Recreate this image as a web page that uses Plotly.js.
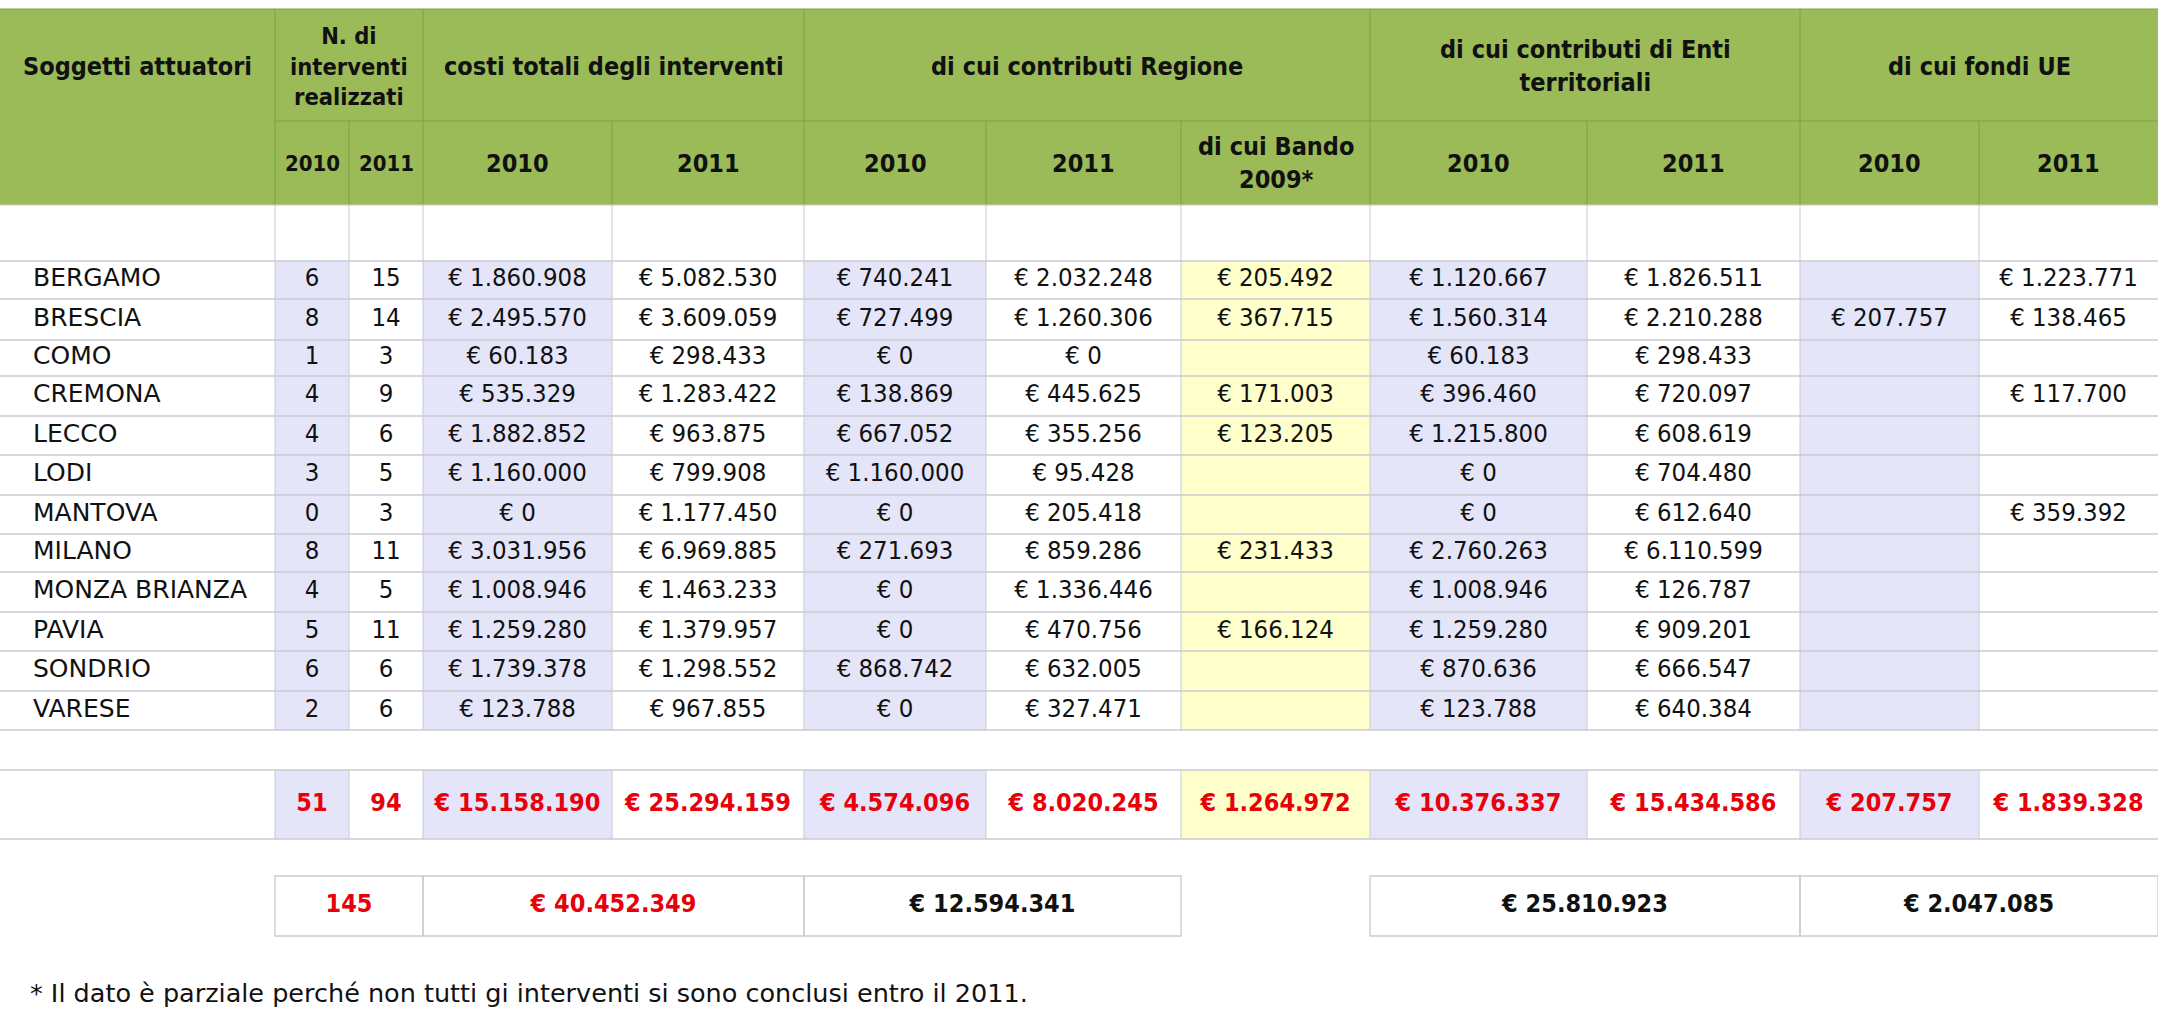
<!DOCTYPE html>
<html>
<head>
<meta charset="utf-8">
<script src="https://cdn.plot.ly/plotly-3.0.1.min.js"></script>
<style>
  html, body { margin: 0; padding: 0; background: #fff; }
  #chart { width: 2158px; height: 1012px; }
</style>
</head>
<body>
<div id="chart"></div>
<script>
const soggetti = ['BERGAMO', 'BRESCIA', 'COMO', 'CREMONA', 'LECCO', 'LODI', 'MANTOVA',
                  'MILANO', 'MONZA BRIANZA', 'PAVIA', 'SONDRIO', 'VARESE'];
const interventi2010 = [6, 8, 1, 4, 4, 3, 0, 8, 4, 5, 6, 2];
const interventi2011 = [15, 14, 3, 9, 6, 5, 3, 11, 5, 11, 6, 6];
const costi2010 = [1860908, 2495570, 60183, 535329, 1882852, 1160000, 0, 3031956, 1008946, 1259280, 1739378, 123788];
const costi2011 = [5082530, 3609059, 298433, 1283422, 963875, 799908, 1177450, 6969885, 1463233, 1379957, 1298552, 967855];
const regione2010 = [740241, 727499, 0, 138869, 667052, 1160000, 0, 271693, 0, 0, 868742, 0];
const regione2011 = [2032248, 1260306, 0, 445625, 355256, 95428, 205418, 859286, 1336446, 470756, 632005, 327471];
const bando2009 = [205492, 367715, null, 171003, 123205, null, null, 231433, null, 166124, null, null];
const enti2010 = [1120667, 1560314, 60183, 396460, 1215800, 0, 0, 2760263, 1008946, 1259280, 870636, 123788];
const enti2011 = [1826511, 2210288, 298433, 720097, 608619, 704480, 612640, 6110599, 126787, 909201, 666547, 640384];
const ue2010 = [null, 207757, null, null, null, null, null, null, null, null, null, null];
const ue2011 = [1223771, 138465, null, 117700, null, null, 359392, null, null, null, null, null];

const totali = [51, 94, 15158190, 25294159, 4574096, 8020245, 1264972, 10376337, 15434586, 207757, 1839328];
const totaliComplessivi = [145, 40452349, 12594341, 25810923, 2047085];

const gruppi = ['Soggetti attuatori', 'N. di<br>interventi<br>realizzati', 'costi totali degli interventi',
                'di cui contributi Regione', 'di cui contributi di Enti<br>territoriali', 'di cui fondi UE'];
const sottotitoli = ['2010', '2011', '2010', '2011', '2010', '2011', 'di cui Bando<br>2009*',
                     '2010', '2011', '2010', '2011'];
const nota = '* Il dato è parziale perché non tutti gi interventi si sono conclusi entro il 2011.';

const colonne = [interventi2010, interventi2011, costi2010, costi2011, regione2010, regione2011,
                 bando2009, enti2010, enti2011, ue2010, ue2011];

// ---- griglia (in pixel della pagina) ----
const colEdges = [0, 275, 349, 423, 612, 804, 986, 1181, 1370, 1587, 1800, 1979, 2158];
const groupSpan = [[0, 1], [1, 3], [3, 5], [5, 8], [8, 10], [10, 12]];
const grandSpan = [[1, 3], [3, 5], [5, 7], [8, 10], [10, 12]];
const headTop = 9, headMid = 121, headBot = 205;
const rowEdges = [261, 299, 340, 376, 416, 455, 495, 534, 572, 612, 651, 691, 730];
const totTop = 770, totBot = 839;
const grandTop = 876, grandBot = 936;

const FONT = '"DejaVu Sans Condensed", "DejaVu Sans", sans-serif';
const FONT_WIDE = '"DejaVu Sans", sans-serif';
const GREEN = '#9bbb59', GREEN_LINE = '#7f9e4c';
const LAV = '#e5e5fa', YEL = '#ffffcc', GRID = '#cacad2', RED = '#e8000b';
const fillCols = {1: LAV, 3: LAV, 5: LAV, 7: YEL, 8: LAV, 10: LAV};
const euroCols = [3, 4, 5, 6, 7, 8, 9, 10, 11];

const mid = (a, b) => (a + b) / 2;
const fmt = (v, c) => {
  if (v === null || v === undefined) return '';
  if (!euroCols.includes(c)) return String(v);
  return '€ ' + String(v).replace(/\B(?=(\d{3})+(?!\d))/g, '.');
};

const shapes = [];
const rect = (x0, x1, y0, y1, fill, line, w) => shapes.push({
  type: 'rect', xref: 'x', yref: 'y', x0, x1, y0, y1, layer: 'below',
  fillcolor: fill || 'rgba(0,0,0,0)', line: {color: line || 'rgba(0,0,0,0)', width: w || 0}
});
const seg = (x0, x1, y0, y1, color, w) => shapes.push({
  type: 'line', xref: 'x', yref: 'y', x0, x1, y0, y1, layer: 'below',
  line: {color, width: w || 1}
});

// intestazione
rect(0, 2158, headTop, headBot, GREEN);
groupSpan.forEach(s => { if (s[0] > 0) seg(colEdges[s[0]], colEdges[s[0]], headTop, headMid, GREEN_LINE); });
for (let c = 1; c < colEdges.length - 1; c++) seg(colEdges[c], colEdges[c], headMid, headBot, GREEN_LINE);
seg(colEdges[1], 2158, headMid, headMid, GREEN_LINE);
seg(0, 2158, headTop, headTop, GREEN_LINE);

// riempimenti colonne
Object.keys(fillCols).forEach(k => {
  const c = +k;
  rect(colEdges[c], colEdges[c + 1], rowEdges[0], rowEdges[rowEdges.length - 1], fillCols[k]);
  rect(colEdges[c], colEdges[c + 1], totTop, totBot, fillCols[k]);
});

// linee corpo
rowEdges.forEach(y => seg(0, 2158, y, y, GRID, 1.3));
seg(0, 2158, headBot, headBot, GRID);
seg(0, 2158, totTop, totTop, GRID, 1.3);
seg(0, 2158, totBot, totBot, GRID, 1.3);
for (let c = 1; c < colEdges.length - 1; c++) {
  seg(colEdges[c], colEdges[c], headBot, rowEdges[rowEdges.length - 1], GRID);
  seg(colEdges[c], colEdges[c], totTop, totBot, GRID);
}
// riquadri totali complessivi
grandSpan.forEach(s => rect(colEdges[s[0]], colEdges[s[1]], grandTop, grandBot, null, GRID, 1.3));

// ---- testi ----
const rowMid = soggetti.map((_, i) => mid(rowEdges[i], rowEdges[i + 1]));

const nameTrace = {
  type: 'scatter', mode: 'text', hoverinfo: 'skip', cliponaxis: false,
  x: soggetti.map(() => 33), y: rowMid, text: soggetti, textposition: 'middle right',
  textfont: {family: FONT_WIDE, size: 25, color: '#111'}
};

const vx = [], vy = [], vt = [];
colonne.forEach((col, j) => {
  const c = j + 1;
  col.forEach((v, i) => {
    vx.push(mid(colEdges[c], colEdges[c + 1])); vy.push(rowMid[i]); vt.push(fmt(v, c));
  });
});
const valueTrace = {
  type: 'scatter', mode: 'text', hoverinfo: 'skip', cliponaxis: false,
  x: vx, y: vy, text: vt, textposition: 'middle center',
  textfont: {family: FONT, size: 25.5, color: '#111'}
};

const totTrace = {
  type: 'scatter', mode: 'text', hoverinfo: 'skip', cliponaxis: false,
  x: totali.map((_, j) => mid(colEdges[j + 1], colEdges[j + 2])),
  y: totali.map(() => mid(totTop, totBot)),
  text: totali.map((v, j) => '<b>' + fmt(v, j + 1) + '</b>'),
  textposition: 'middle center',
  textfont: {family: FONT, size: 25, color: RED}
};

const grandTrace = {
  type: 'scatter', mode: 'text', hoverinfo: 'skip', cliponaxis: false,
  x: grandSpan.map(s => mid(colEdges[s[0]], colEdges[s[1]])),
  y: grandSpan.map(() => mid(grandTop, grandBot)),
  text: totaliComplessivi.map((v, j) => '<b>' + (j === 0 ? String(v) : fmt(v, 3)) + '</b>'),
  textposition: 'middle center',
  textfont: {family: FONT, size: 25, color: [RED, RED, '#111', '#111', '#111']}
};

const annotations = [];
gruppi.forEach((g, k) => {
  const s = groupSpan[k];
  annotations.push({
    xref: 'x', yref: 'y', x: mid(colEdges[s[0]], colEdges[s[1]]), y: 66,
    text: '<b>' + g + '</b>', showarrow: false, xanchor: 'center', yanchor: 'middle',
    font: {family: FONT, size: k === 1 ? 23.5 : 25, color: '#111'}
  });
});
sottotitoli.forEach((t, j) => {
  const c = j + 1;
  annotations.push({
    xref: 'x', yref: 'y', x: mid(colEdges[c], colEdges[c + 1]), y: mid(headMid, headBot),
    text: '<b>' + t + '</b>', showarrow: false, xanchor: 'center', yanchor: 'middle',
    font: {family: FONT, size: c <= 2 ? 22 : 25, color: '#111'}
  });
});
annotations.push({
  xref: 'x', yref: 'y', x: 28, y: 993, text: nota, showarrow: false,
  xanchor: 'left', yanchor: 'middle', font: {family: FONT_WIDE, size: 25.5, color: '#111'}
});

const layout = {
  width: 2158, height: 1012,
  margin: {l: 0, r: 0, t: 0, b: 0},
  paper_bgcolor: '#fff', plot_bgcolor: '#fff',
  showlegend: false,
  xaxis: {range: [0, 2158], visible: false, fixedrange: true},
  yaxis: {range: [1012, 0], visible: false, fixedrange: true},
  shapes, annotations
};

Plotly.newPlot('chart', [nameTrace, valueTrace, totTrace, grandTrace], layout,
  {displayModeBar: false, staticPlot: true});
</script>
</body>
</html>
